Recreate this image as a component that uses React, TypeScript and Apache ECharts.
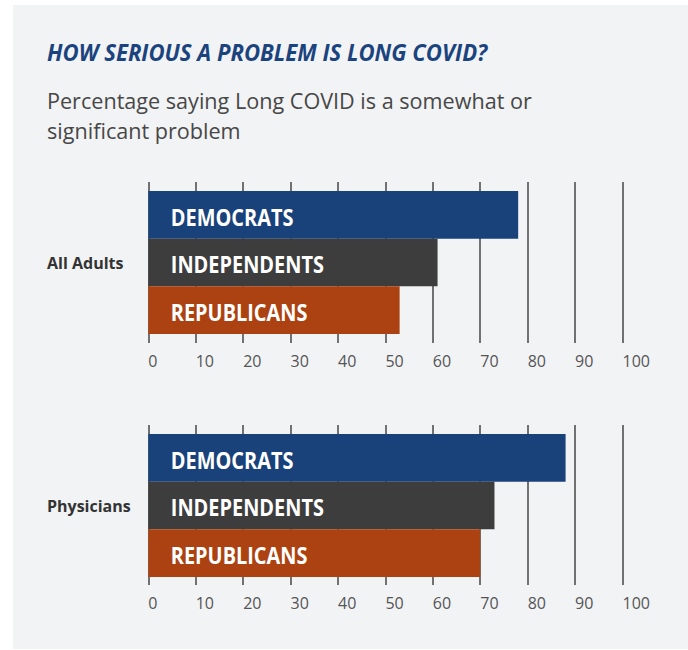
import React, { useEffect, useRef } from "react";
import * as echarts from "echarts";

const titleText = "HOW SERIOUS A PROBLEM IS LONG COVID?";
const subtitleLines = ["Percentage saying Long COVID is a somewhat or", "significant problem"];
const groups = ["All Adults", "Physicians"];
const parties = ["DEMOCRATS", "INDEPENDENTS", "REPUBLICANS"];
const allAdults = [78, 61, 53];
const physicians = [88, 73, 70];
const partyColors = ["#19427b", "#3d3d3d", "#ac4211"];
const axisMin = 0;
const axisMax = 100;
const axisStep = 10;

const SANS = "'Open Sans', 'Noto Sans', sans-serif";

export default function App() {
  const ref = useRef<HTMLDivElement>(null);

  useEffect(() => {
    if (!ref.current) return;
    const chart = echarts.init(ref.current, null, { renderer: "svg" });
    const seriesValues = [allAdults, physicians];
    const gridLeft = 148.3;
    const gridRight = 688 - 622.5;
    const lineGrids = [
      { top: 182, height: 161 },
      { top: 425, height: 160 },
    ];
    const barGrids = [
      { top: 191, height: 143 },
      { top: 434, height: 143 },
    ];
    const grids: any[] = [];
    const xAxes: any[] = [];
    const yAxes: any[] = [];
    const series: any[] = [];
    const graphics: any[] = [
      {
        type: "text",
        x: 47,
        y: 51.5,
        scaleX: 0.922,
        style: {
          text: titleText,
          font: `italic bold 24px ${SANS}`,
          fill: "#1b447e",
          verticalAlign: "middle",
          align: "left",
        },
      },
      {
        type: "text",
        left: 47,
        top: 85,
        style: {
          text: subtitleLines.join("\n"),
          font: `21.6px ${SANS}`,
          lineHeight: 30,
          fill: "#474747",
        },
      },
    ];

    groups.forEach((g, gi) => {
      const lg = grids.length;
      grids.push({ left: gridLeft, right: gridRight, top: lineGrids[gi].top, height: lineGrids[gi].height });
      xAxes.push({
        type: "value",
        gridIndex: lg,
        min: axisMin,
        max: axisMax,
        interval: axisStep,
        axisLine: { show: false },
        axisTick: { show: false },
        splitLine: { show: true, lineStyle: { color: "#505050", width: 1.6 } },
        axisLabel: {
          show: true,
          align: "left",
          margin: 10,
          color: "#555555",
          fontFamily: SANS,
          fontSize: 16,
        },
      });
      yAxes.push({ type: "value", gridIndex: lg, show: false, splitLine: { show: false } });

      const bg = grids.length;
      grids.push({ left: gridLeft, right: gridRight, top: barGrids[gi].top, height: barGrids[gi].height });
      xAxes.push({ type: "value", gridIndex: bg, min: axisMin, max: axisMax, show: false });
      yAxes.push({ type: "category", gridIndex: bg, data: parties, inverse: true, show: false });
      series.push({
        type: "bar",
        xAxisIndex: bg,
        yAxisIndex: bg,
        barWidth: "100%",
        barCategoryGap: "0%",
        data: seriesValues[gi].map((v, i) => ({ value: v, itemStyle: { color: partyColors[i] } })),
        silent: true,
      });
      series.push({
        type: "custom",
        xAxisIndex: bg,
        yAxisIndex: bg,
        silent: true,
        z: 5,
        data: parties.map((p, i) => [0, i]),
        renderItem: (params: any, api: any) => {
          const pt = api.coord([api.value(0), api.value(1)]);
          return {
            type: "text",
            x: pt[0] + 22.5,
            y: pt[1] + 1,
            scaleX: 0.83,
            style: {
              text: parties[params.dataIndex],
              font: `bold 24px ${SANS}`,
              fill: "#ffffff",
              align: "left",
              verticalAlign: "middle",
            },
          };
        },
      });

      graphics.push({
        type: "text",
        left: 47,
        top: barGrids[gi].top + barGrids[gi].height / 2 - 8,
        style: {
          text: g,
          font: `bold 16px ${SANS}`,
          fill: "#333333",
        },
      });
    });

    chart.setOption({
      animation: false,
      backgroundColor: "transparent",
      grid: grids,
      xAxis: xAxes,
      yAxis: yAxes,
      series,
      graphic: graphics,
    });
    return () => chart.dispose();
  }, []);

  return (
    <div style={{ position: "fixed", left: 0, top: 0, width: 688, height: 650, background: "#ffffff" }}>
      <div style={{ position: "absolute", left: 13, top: 5, width: 675, height: 644, background: "#f2f3f5" }} />
      <div ref={ref} style={{ position: "absolute", left: 0, top: 0, width: 688, height: 650 }} />
    </div>
  );
}
